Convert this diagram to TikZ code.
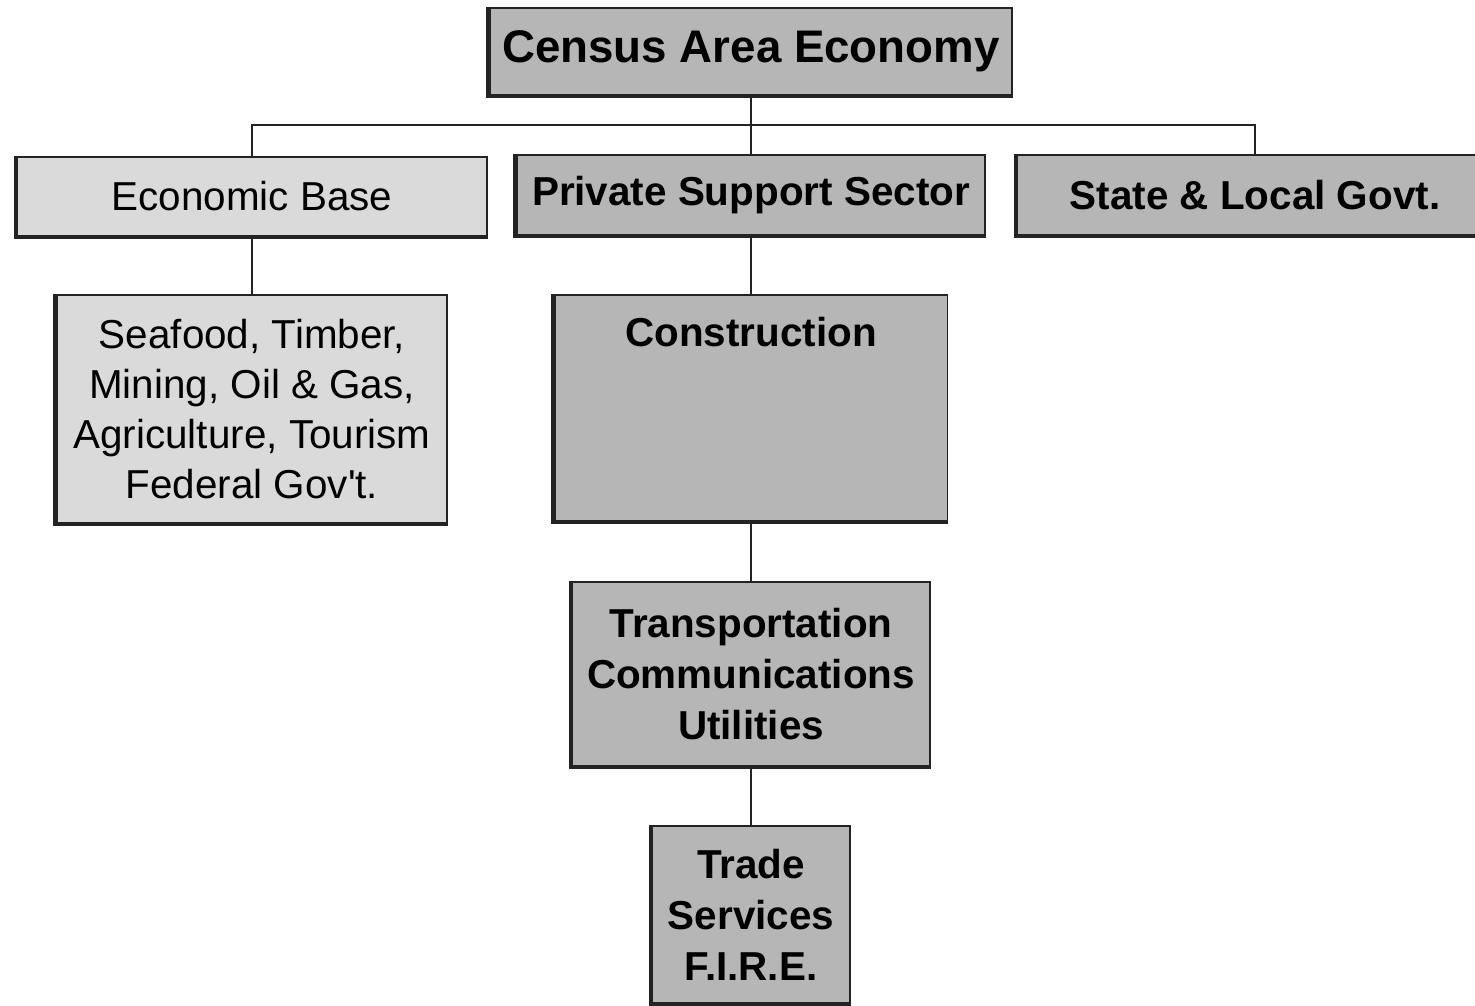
\documentclass[tikz,border=0pt]{standalone}
\usepackage{fontspec}
\setmainfont{Liberation Sans}
\usepackage{tikz}

\definecolor{darkbox}{RGB}{182,182,182}
\definecolor{lightbox}{RGB}{218,218,218}
\definecolor{edge}{RGB}{35,35,35}

\tikzset{
  boxbase/.style={shape=rectangle,draw=edge,line width=1.1pt,align=center,
    text=black,font=\fontsize{23}{28.5}\selectfont,inner sep=0pt},
  plainbox/.style={boxbase,fill=lightbox},
  boldbox/.style={boxbase,fill=darkbox,font=\fontsize{23}{29}\selectfont\bfseries},
  link/.style={draw=edge,line width=1.3pt}
}

\begin{document}
\begin{tikzpicture}[x=0.02cm,y=-0.02cm]

	\useasboundingbox (0,0) rectangle (1475,1005);

	\node[boldbox,minimum width=10.46cm,minimum height=1.74cm,
	      font=\fontsize{26}{30}\selectfont\bfseries] (census) at (751, 51.5) {Census Area Economy};
	\node[plainbox,minimum width=9.4cm,minimum height=1.58cm] (base) at (252, 196.5) {Economic Base};
	\node[boldbox,minimum width=9.38cm,minimum height=1.6cm] (private) at (751, 195) {Private Support Sector};
	\node[boldbox,minimum width=9.52cm,minimum height=1.6cm] (govt) at (1255, 195) {State \& Local Govt.};
	\node[plainbox,minimum width=7.82cm,minimum height=4.56cm] (seafood) at (252, 409)
	     {Seafood, Timber,\\Mining, Oil \& Gas,\\Agriculture, Tourism\\Federal Gov\textquotesingle t.};
	\node[boldbox,anchor=base,minimum width=7.86cm,text height=1.02cm,text depth=3.5cm] (constr) at (751, 346) {Construction};
	\node[boldbox,minimum width=7.16cm,minimum height=3.68cm] (transp) at (751, 674)
	     {Transportation\\Communications\\Utilities};
	\node[boldbox,minimum width=3.96cm,minimum height=3.54cm] (trade) at (751, 914.5)
	     {Trade\\Services\\F.I.R.E.};

	% heavy left and bottom edges
	\foreach \n in {census,base,private,govt,seafood,constr,transp,trade}
		\draw[edge,line width=2.6pt] (\n.north west) -- (\n.south west) -- (\n.south east);

	\coordinate (bus) at (751, 125);

	\path[link] (census.south) -- (bus);
	\path[link] (base.north) |- (bus) -| (govt.north);
	\path[link] (bus) -- (private.north);
	\path[link] (base.south) -- (seafood.north);
	\path[link] (private.south) -- (constr.north);
	\path[link] (constr.south) -- (transp.north);
	\path[link] (transp.south) -- (trade.north);
\end{tikzpicture}
\end{document}
